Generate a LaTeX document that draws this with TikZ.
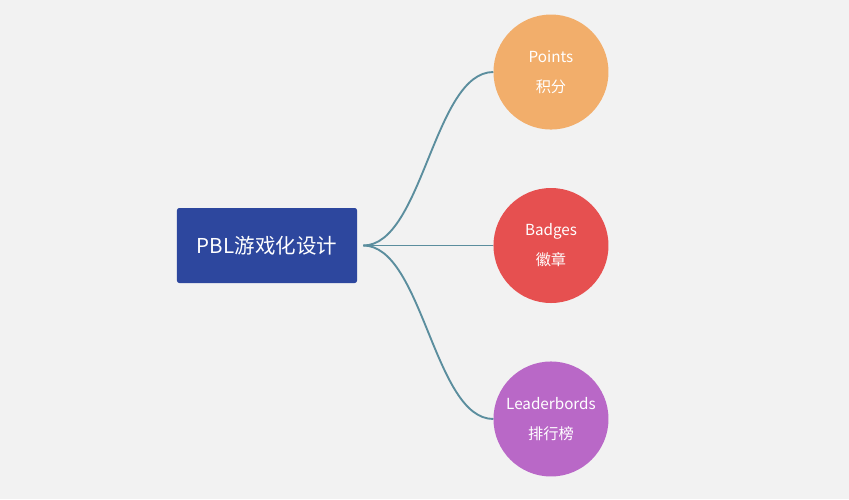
\documentclass[tikz,border=0pt]{standalone}
\usepackage{fontspec}
\setmainfont{Noto Sans CJK SC}
\usepackage{xcolor}
\usepackage{tikz}
\usetikzlibrary{positioning}

\definecolor{PageGray}{HTML}{F2F2F2}
\definecolor{RootBlue}{HTML}{2D479E}
\definecolor{PointsOrange}{HTML}{F2AE6B}
\definecolor{BadgesRed}{HTML}{E65050}
\definecolor{LeaderPurple}{HTML}{B968C7}
\definecolor{LinkTeal}{HTML}{5B8E9E}

\begin{document}
\begin{tikzpicture}[
    x=0.03cm, y=-0.03cm,
    every edge/.style={draw=LinkTeal, line width=1.6pt},
    root/.style={fill=RootBlue, rounded corners=2pt, minimum width=5.4cm, minimum height=2.25cm,
                 inner sep=0pt, text=white, font=\fontsize{17.5}{20}\selectfont},
    leaf/.style={circle, minimum size=3.45cm, inner sep=0pt, align=center, text=white,
                 font=\fontsize{13}{25.5}\selectfont},
    branch/.style={out=0, in=180, looseness=0.7}]

    \fill [PageGray] (0,0) rectangle (849,499);
    \useasboundingbox (0,0) rectangle (849,499);

    \node at (267,245.5) [root] (pbl) {PBL游戏化设计};
    \node [leaf, fill=BadgesRed, right=4.08cm of pbl] (badges) {Badges\\徽章};
    \node [leaf, fill=PointsOrange, above=1.74cm of badges] (points) {Points\\积分};
    \node [leaf, fill=LeaderPurple, below=1.74cm of badges] (leaders) {Leaderbords\\排行榜};
    \coordinate [right=0.18cm of pbl] (hub);

    \path (hub) edge [branch] (points.west);
    \path (hub) edge (badges.west);
    \path (hub) edge [branch] (leaders.west);

\end{tikzpicture}
\end{document}
